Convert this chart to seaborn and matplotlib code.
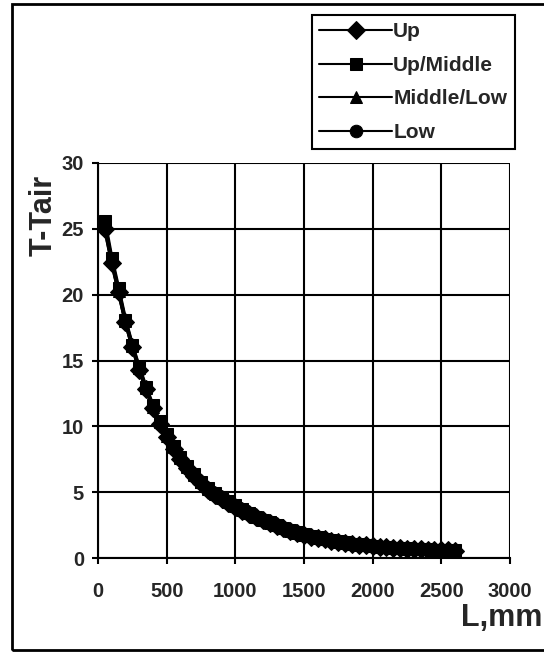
import numpy as np
import pandas as pd
import matplotlib
matplotlib.use("Agg")
import matplotlib.pyplot as plt
import seaborn as sns
from matplotlib.patches import Rectangle

L_mm = [50, 100, 150, 200, 250, 300, 350, 400, 450, 500, 550, 600, 650, 700, 750, 800,
        850, 900, 950, 1000, 1050, 1100, 1150, 1200, 1250, 1300, 1350, 1400, 1450, 1500,
        1550, 1600, 1650, 1700, 1750, 1800, 1850, 1900, 1950, 2000, 2050, 2100, 2150,
        2200, 2250, 2300, 2350, 2400, 2450, 2500, 2550, 2600]

up = [25.0, 22.4, 20.2, 17.9, 16.0, 14.3, 12.8, 11.4, 10.2, 9.2, 8.3, 7.5, 6.8, 6.2, 5.7,
      5.2, 4.8, 4.5, 4.2, 3.9, 3.6, 3.35, 3.1, 2.85, 2.65, 2.45, 2.25, 2.05, 1.9, 1.75,
      1.63, 1.52, 1.42, 1.32, 1.24, 1.16, 1.08, 1.01, 0.95, 0.9, 0.85, 0.81, 0.77, 0.74,
      0.71, 0.68, 0.66, 0.64, 0.62, 0.6, 0.58, 0.56]
up_middle = [25.6, 22.8, 20.5, 18.1, 16.2, 14.5, 13.0, 11.6, 10.4, 9.4, 8.5, 7.7, 7.0, 6.4,
             5.8, 5.3, 4.9, 4.6, 4.3, 4.0, 3.7, 3.4, 3.15, 2.9, 2.7, 2.5, 2.3, 2.1, 1.95,
             1.8, 1.68, 1.56, 1.45, 1.35, 1.26, 1.18, 1.1, 1.03, 0.97, 0.92, 0.87, 0.83,
             0.79, 0.76, 0.73, 0.7, 0.68, 0.66, 0.64, 0.62, 0.6, 0.58]
middle_low = [25.3, 22.6, 20.3, 18.0, 16.1, 14.4, 12.9, 11.5, 10.3, 9.3, 8.4, 7.6, 6.9,
              6.3, 5.75, 5.25, 4.85, 4.55, 4.25, 3.95, 3.65, 3.38, 3.12, 2.88, 2.68,
              2.48, 2.28, 2.08, 1.93, 1.78, 1.66, 1.54, 1.44, 1.34, 1.25, 1.17, 1.09,
              1.02, 0.96, 0.91, 0.86, 0.82, 0.78, 0.75, 0.72, 0.69, 0.67, 0.65, 0.63,
              0.61, 0.59, 0.57]
low = [25.0, 22.5, 20.2, 17.9, 16.0, 14.3, 12.8, 11.4, 10.2, 9.2, 8.3, 7.5, 6.8, 6.2, 5.7,
       5.2, 4.8, 4.5, 4.2, 3.9, 3.6, 3.35, 3.1, 2.85, 2.65, 2.45, 2.25, 2.05, 1.9, 1.75,
       1.63, 1.52, 1.42, 1.32, 1.24, 1.16, 1.08, 1.01, 0.95, 0.9, 0.85, 0.81, 0.77, 0.74,
       0.71, 0.68, 0.66, 0.64, 0.62, 0.6, 0.58, 0.56]

series_names = ["Up", "Up/Middle", "Middle/Low", "Low"]
x_ticks = [0, 500, 1000, 1500, 2000, 2500, 3000]
y_ticks = [0, 5, 10, 15, 20, 25, 30]

frames = []
for name, vals in zip(series_names, [up, up_middle, middle_low, low]):
    frames.append(pd.DataFrame({"L": L_mm, "T": vals, "series": name}))
df = pd.concat(frames, ignore_index=True)

sns.set_style("white")
plt.rcParams["font.family"] = ["Liberation Sans", "DejaVu Sans"]
plt.rcParams["font.weight"] = "bold"

W, H = 544, 652
fig = plt.figure(figsize=(W / 100, H / 100), dpi=100)
ax = fig.add_axes([98 / W, 1 - 558 / H, (510 - 98) / W, (558 - 163) / H])

sns.lineplot(data=df, x="L", y="T", hue="series", style="series",
             hue_order=series_names, style_order=series_names,
             palette=["black"] * 4, markers=["D", "s", "^", "o"], dashes=False,
             markersize=9, markeredgecolor="black", linewidth=2.5, ax=ax,
             legend=True)

ax.set_xlim(0, 3000)
ax.set_ylim(0, 30)
ax.set_xticks(x_ticks)
ax.set_yticks(y_ticks)
ax.set_xlabel("")
ax.set_ylabel("")
ax.grid(True, color="black", linewidth=1.5)
ax.set_axisbelow(True)
for side in ["top", "right"]:
    ax.spines[side].set_visible(False)
for side in ["left", "bottom"]:
    ax.spines[side].set_color("black")
    ax.spines[side].set_linewidth(1.5)
ax.tick_params(axis="both", direction="out", length=4, width=1.5, color="black",
               labelsize=14.5, left=True, bottom=True)
ax.tick_params(axis="x", pad=13)
ax.tick_params(axis="y", pad=6)
for lbl in ax.get_xticklabels() + ax.get_yticklabels():
    lbl.set_fontweight("bold")

handles, labels = ax.get_legend_handles_labels()
ax.get_legend().remove()
for h in handles:
    h.set_linewidth(1.5)
    h.set_markersize(9)
leg = fig.legend(handles, labels, loc="upper left",
                 bbox_to_anchor=(312 / W, 1 - 15 / H), borderaxespad=0,
                 frameon=True, fancybox=False, framealpha=1,
                 edgecolor="black", borderpad=0.35, labelspacing=0.7,
                 handlelength=3.5, handletextpad=0.05,
                 prop={"weight": "bold", "size": 15})
leg.get_frame().set_linewidth(1.5)

fig.text(44 / W, 1 - 215 / H, "T-Tair", rotation=90, fontsize=22, fontweight="bold",
         ha="center", va="center")
fig.text(542 / W, 1 - 618 / H, "L,mm", fontsize=22, fontweight="bold",
         ha="right", va="center")

fig.patches.append(Rectangle((12 / W, 2 / H), 1.2, 1 - 6 / H, transform=fig.transFigure,
                             fill=False, edgecolor="black", linewidth=2, clip_on=False))

fig.savefig("out.png", dpi=100)
